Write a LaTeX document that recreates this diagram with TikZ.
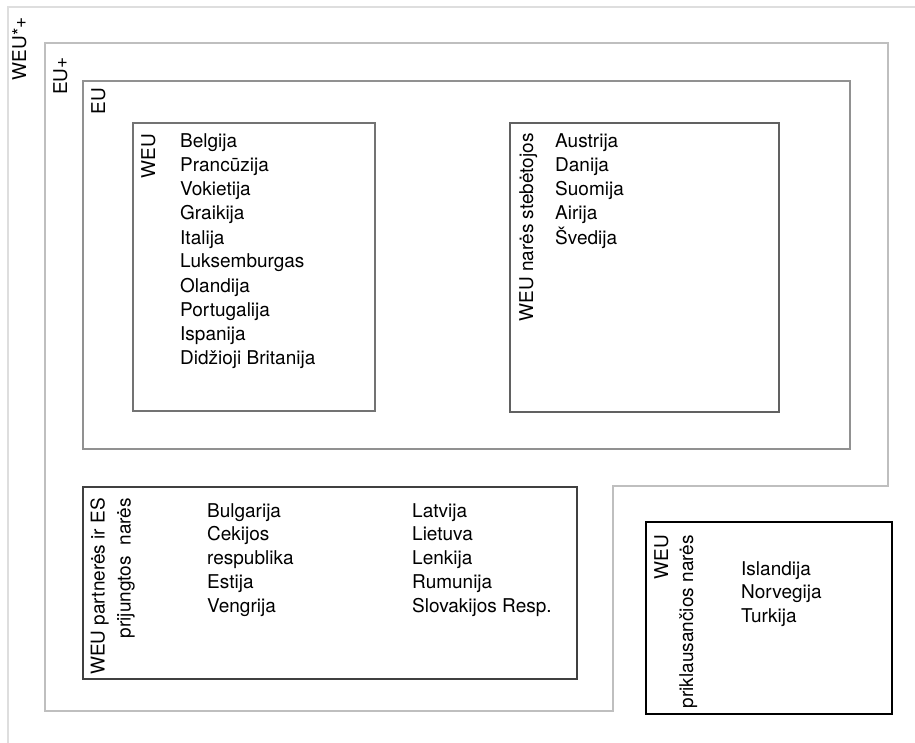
\documentclass[tikz,border=0pt]{standalone}
\usepackage{fontspec}
\setmainfont{TeX Gyre Heros}
\usetikzlibrary{calc}
\tikzset{
	item/.style={font=\fontsize{19}{23}\selectfont, inner sep=0pt, anchor=base west},
	side/.style={font=\fontsize{19}{23}\selectfont, inner sep=0pt, rotate=90, anchor=base east},
	frame/.style={line width=#1, line join=miter}
}

\begin{document}
\begin{tikzpicture}[x=1pt, y=-1pt]
		%%%%% START %%%%%
		\fill[white] (0,0) rectangle (915,743);
		\useasboundingbox (0,0) rectangle (915,743);
		
		% nested frames
		\draw[frame=2pt, color=black!13] (8,743) -- (8,7.5) -- (915,7.5);
		\draw[frame=2.4pt, color=black!25] (45,43) -- (888,43) -- (888,486) -- (613,486) -- (613,711) -- (45,711) -- cycle;
		\draw[frame=2.2pt, color=black!43] (83,81) rectangle (850,449);
		\draw[frame=2pt, color=black!55] (133,123) rectangle (375,411);
		\draw[frame=2pt, color=black!62] (510,123) rectangle (779,412);
		\draw[frame=2pt, color=black!75] (83,487) rectangle (577,679);
		\draw[frame=2pt, color=black] (646,522) rectangle (892,714);
		
		% frame labels
		\node[side] (weuplus) at (26,17) {WEU*+};
		\node[side] (euplus) at (67,57) {EU+};
		\node[side] (eu) at (105,88) {EU};
		\node[side] (weu) at (155,134) {WEU};
		\node[side] (stebetojos) at (533,133) {WEU narės stebėtojos};
		\node[side] (partA) at (104.5,498) {WEU partnerės ir ES};
		\node[side] (partB) at (130.5,498) {prijungtos~~narės};
		\node[side] (priklA) at (668,535) {WEU};
		\node[side] (priklB) at (693,535) {priklausančios narės};
		
		% country lists
		\foreach \ctry [count=\i] in {Belgija, Prancūzija, Vokietija, Graikija, Italija, Luksemburgas, Olandija, Portugalija, Ispanija, Didžioji Britanija}
			\node[item] (weu\i) at (180,{124+24*\i}) {\ctry};
		\foreach \ctry [count=\i] in {Austrija, Danija, Suomija, Airija, Švedija}
			\node[item] (steb\i) at (555,{124+24*\i}) {\ctry};
		\foreach \ctry [count=\i] in {Bulgarija, Cekijos, respublika, Estija, Vengrija}
			\node[item] (partl\i) at (207,{493.2+23.8*\i}) {\ctry};
		\foreach \ctry [count=\i] in {Latvija, Lietuva, Lenkija, Rumunija, Slovakijos Resp.}
			\node[item] (partr\i) at (412,{493.2+23.8*\i}) {\ctry};
		\foreach \ctry [count=\i] in {Islandija, Norvegija, Turkija}
			\node[item] (prikl\i) at (741,{551.3+23.7*\i}) {\ctry};
		
		%%%%% END %%%%%
	\end{tikzpicture}
\end{document}
